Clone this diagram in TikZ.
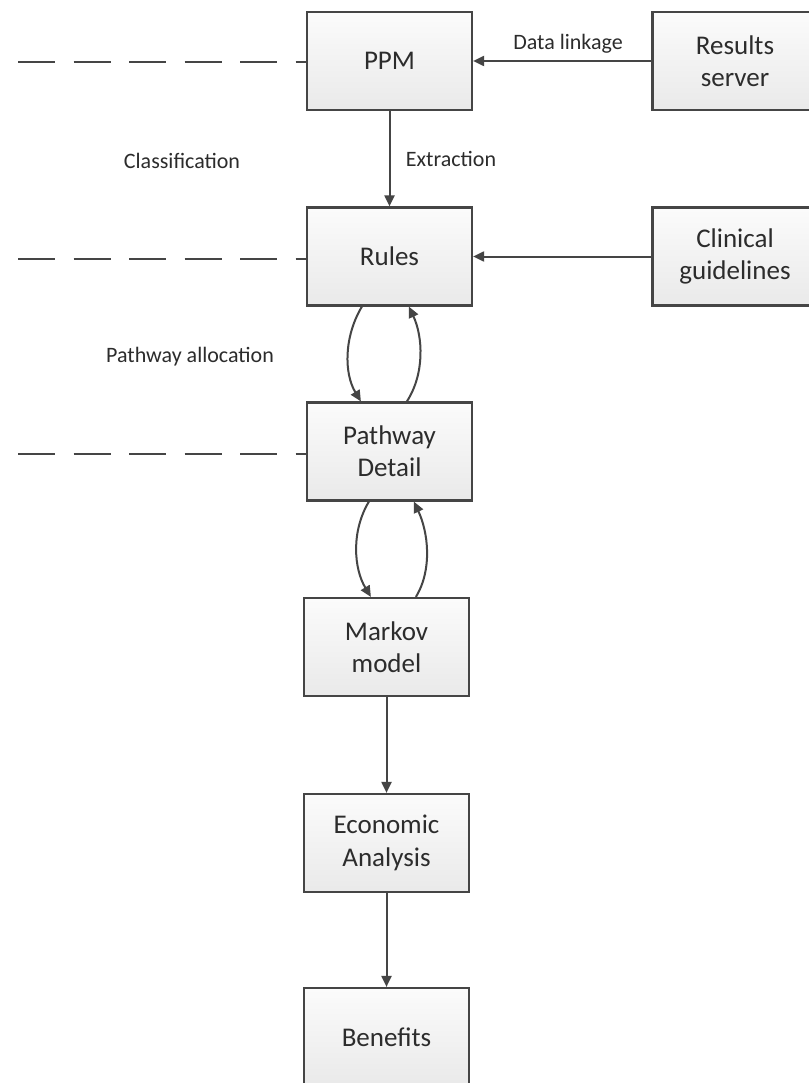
\documentclass[tikz,border=0pt]{standalone}
\usepackage{fontspec}
\setmainfont{Carlito}
\usetikzlibrary{arrows.meta}
\definecolor{edge}{HTML}{454545}
\definecolor{ink}{HTML}{2C2C2C}
\tikzset{
  stagebox/.style={draw=edge, line width=2.2pt, top color=gray!3, bottom color=gray!17,
    minimum width=165pt, minimum height=98pt, inner sep=0pt, align=center,
    text=ink, font=\fontsize{27}{32.4}\selectfont},
  tag/.style={text=ink, font=\fontsize{22}{26}\selectfont, inner sep=0pt},
  flow/.style={draw=edge, line width=2pt, -{Triangle[length=11pt,width=10pt]}},
  tier/.style={draw=edge, line width=2.2pt, dash pattern=on 37pt off 18.5pt},
}
\begin{document}
\begin{tikzpicture}[x=1pt,y=-1pt]
\useasboundingbox[fill=white] (0,0) rectangle (808,1083);

% main pipeline
\node[stagebox] (ppm)  at (389.5,61)    {PPM};
\node[stagebox] (rules) at (389.5,256.5) {Rules};
\node[stagebox] (path) at (389.5,451.5) {Pathway\\Detail};
\node[stagebox] (markov) at (386.5,647) {Markov\\model};
\node[stagebox] (econ) at (386.5,843)   {Economic\\Analysis};
\node[stagebox] (ben)  at (386.5,1037)  {Benefits};

% external inputs
\node[stagebox] (res)  at (735,61)    {Results\\server};
\node[stagebox] (clin) at (735,256.5) {Clinical\\guidelines};

% dashed tier markers
\coordinate (t1) at (18,62);
\coordinate (t2) at (18,259);
\coordinate (t3) at (18,454);
\draw[tier] (t1) -- (t1 -| ppm.west);
\draw[tier] (t2) -- (t2 -| rules.west);
\draw[tier] (t3) -- (t3 -| path.west);

% straight connectors
\draw[flow] (res.west) -- (ppm.east);
\draw[flow] (clin.west) -- (rules.east);
\draw[flow] (ppm.south) -- (rules.north);
\draw[flow] (markov.south) -- (econ.north);
\draw[flow] (econ.south) -- (ben.north);

% two-way loops
\draw[flow] ([xshift=56pt]rules.south west) .. controls +(-18,30) and +(-17,-28) .. ([xshift=55pt]path.north west);
\draw[flow] ([xshift=101pt]path.north west) .. controls +(18,-28) and +(14,30) .. ([xshift=103pt]rules.south west);
\draw[flow] ([xshift=63pt]path.south west) .. controls +(-18,30) and +(-17,-28) .. ([xshift=68pt]markov.north west);
\draw[flow] ([xshift=113pt]markov.north west) .. controls +(17,-28) and +(14,30) .. ([xshift=108pt]path.south west);

% labels
\node[tag] (l1) at (568,44)  {Data linkage};
\node[tag] (l2) at (451,159) {Extraction};
\node[tag] (l3) at (182,161) {Classification};
\node[tag] (l4) at (190,357) {Pathway allocation};
\end{tikzpicture}
\end{document}
